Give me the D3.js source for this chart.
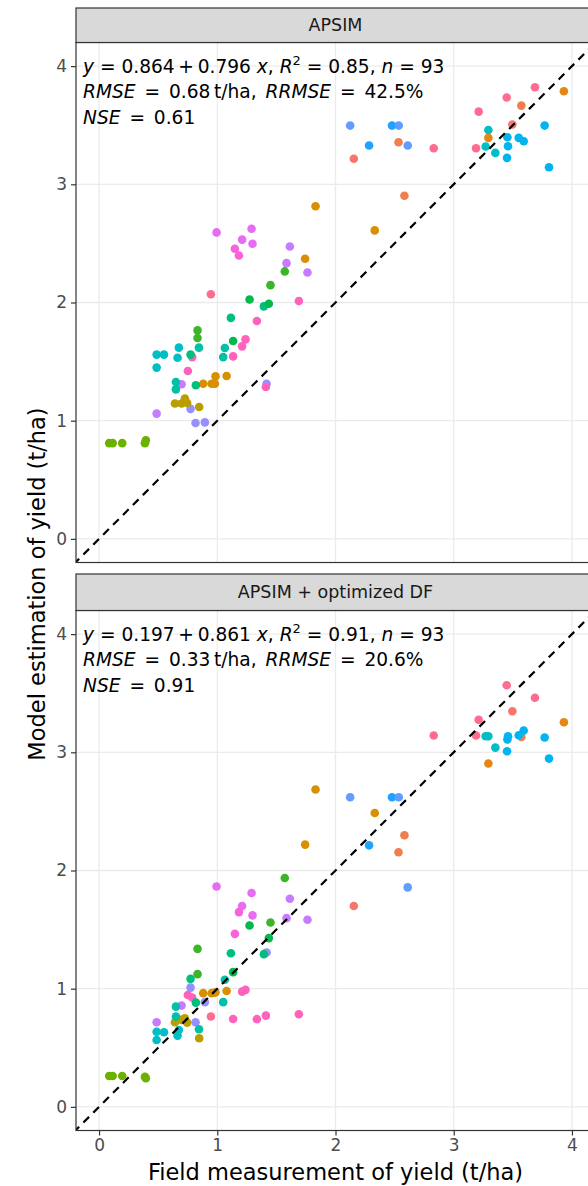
<!DOCTYPE html>
<html><head><meta charset="utf-8">
<script src="https://cdn.jsdelivr.net/npm/d3@7"></script>
<style>body{margin:0;background:#fff;overflow:hidden}svg{display:block;font-family:"DejaVu Sans",sans-serif}</style>
</head><body><svg id="c" width="588" height="1186"></svg>
<script>
// ---- data ----
const panelTitles = ["APSIM", "APSIM + optimized DF"];
const tickValues = [0, 1, 2, 3, 4];
const siteNames = ["S01","S02","S03","S04","S05","S06","S07","S08","S09","S10","S11","S12","S13","S14","S15","S16","S17","S18","S19","S20"];
const siteColors = ["#F8766D","#F07E4E","#E68613","#D89000","#BA9E00","#6BB100","#3DB52A","#00BA4C","#00BF7D","#00C0A6","#00BFC4","#00B4EF","#1FA3FF","#619CFF","#9590FF","#C77CFF","#E76BF3","#FA62DB","#FF62BC","#FF6C91"];
// field measurement (x), APSIM estimate, APSIM + optimized DF estimate, site
const fieldYield = [2.124,2.478,2.535,2.284,2.533,2.611,2.155,2.831,2.583,2.332,3.211,3.189,3.448,3.687,3.572,3.932,3.496,3.293,3.293,3.454,3.55,3.592,3.27,3.352,3.459,3.451,3.769,3.806,1.831,1.743,
 0.086,0.115,0.196,0.388,0.396, 0.994,1.29,1.21,1.298,1.149,1.183, 1.614,1.586,1.763,0.698,0.487, 1.417,0.774,0.816,0.895,
 0.788,0.751,1.134,1.21,1.239,1.335,1.411,1.69,0.946, 0.642,0.698,0.726,0.745,0.847, 0.881,0.952,0.98,0.985,1.079,
 0.487,0.549,0.487,0.675,0.664, 0.65,0.65,0.774,0.819,0.833,0.833,0.845,1.05,1.064,1.115,1.134,1.273,1.394,1.436,1.45,1.571];
const apsimYield = [3.497,3.497,3.497,3.328,3.356,3.328,3.216,3.305,2.903,2.61,3.615,3.305,3.734,3.821,3.666,3.787,3.506,3.46,3.393,3.398,3.393,3.364,3.32,3.266,3.322,3.224,3.497,3.145,2.815,2.37,
 0.81,0.81,0.81,0.81,0.834, 2.593,2.624,2.532,2.497,2.455,2.398, 2.474,2.333,2.254,1.308,1.06, 1.313,1.10,0.98,0.986,
 1.538,1.42,1.544,1.629,1.688,1.843,1.285,2.012,2.07, 1.145,1.145,1.187,1.15,1.116, 1.313,1.313,1.313,1.375,1.378,
 1.559,1.559,1.449,1.618,1.533, 1.327,1.265,1.559,1.30,1.764,1.70,1.618,1.538,1.615,1.87,1.674,2.026,1.967,1.99,2.147,2.263];
const optYield = [2.62,2.62,2.62,2.213,2.154,1.857,1.70,3.142,2.298,2.487,3.275,3.142,3.568,3.462,3.131,3.255,3.348,3.136,2.905,3.108,3.145,3.185,3.136,3.04,3.136,3.009,3.125,2.947,2.685,2.219,
 0.261,0.261,0.261,0.255,0.242, 1.865,1.809,1.70,1.62,1.464,1.648, 1.761,1.597,1.583,0.857,0.716, 1.306,1.009,0.716,0.886,
 0.925,0.947,0.744,0.975,0.99,0.742,0.772,0.784,0.764, 0.716,0.736,0.75,0.713,0.58, 0.962,0.962,0.967,0.97,0.981,
 0.636,0.631,0.566,0.651,0.603, 0.848,0.764,1.083,0.882,1.337,1.123,0.657,0.886,1.075,1.30,1.14,1.535,1.292,1.428,1.56,1.936];
const site = ["S14","S13","S14","S13","S02","S14","S01","S20","S02","S04","S20","S20","S20","S20","S02","S03","S01","S11","S03","S12","S12","S12","S11","S11","S12","S12","S12","S12","S04","S04",
 "S06","S06","S06","S06","S06", "S17","S17","S17","S17","S18","S18", "S16","S16","S16","S16","S16", "S15","S15","S15","S15",
 "S19","S19","S19","S19","S19","S19","S19","S19","S20", "S05","S05","S05","S05","S05", "S04","S04","S04","S04","S04",
 "S11","S11","S11","S11","S11", "S10","S10","S09","S09","S07","S07","S10","S10","S10","S09","S08","S08","S09","S08","S07","S07"];
// regression / error statistics shown in each panel
const eqIntercept = ["0.864", "0.197"];
const eqSlope = ["0.796", "0.861"];
const eqR2 = ["0.85", "0.91"];
const eqN = ["93", "93"];
const rmse = ["0.68", "0.33"];
const rrmse = ["42.5%", "20.6%"];
const nse = ["0.61", "0.91"];
const xTitle = "Field measurement of yield (t/ha)";
const yTitle = "Model estimation of yield (t/ha)";

// ---- layout ----
const svg = d3.select("#c");
const L = 76, R = 595;
const panels = [{top: 42.5, bottom: 562.5, stripTop: 8}, {top: 610.5, bottom: 1130.5, stripTop: 574}];
const x = d3.scaleLinear().domain([-0.195, 4.195]).range([L, R]);
const color = d3.scaleOrdinal().domain(siteNames).range(siteColors);
const data = fieldYield.map((f, i) => ({f, a: apsimYield[i], o: optYield[i], s: site[i]}));
const thin = "\u2009";

panels.forEach((p, pi) => {
  const y = d3.scaleLinear().domain([-0.2, 4.2]).range([p.bottom, p.top]);
  const g = svg.append("g");
  g.append("rect").attr("x", L).attr("y", p.top).attr("width", R - L).attr("height", p.bottom - p.top).attr("fill", "#fff");
  const cid = "clip" + pi;
  svg.append("clipPath").attr("id", cid).append("rect").attr("x", L).attr("y", p.top).attr("width", R - L).attr("height", p.bottom - p.top);
  const inner = g.append("g").attr("clip-path", `url(#${cid})`);
  inner.selectAll(".gx").data(tickValues).join("line").attr("x1", d => x(d)).attr("x2", d => x(d)).attr("y1", p.top).attr("y2", p.bottom).attr("stroke", "#EBEBEB").attr("stroke-width", 1.3);
  inner.selectAll(".gy").data(tickValues).join("line").attr("y1", d => y(d)).attr("y2", d => y(d)).attr("x1", L).attr("x2", R).attr("stroke", "#EBEBEB").attr("stroke-width", 1.3);
  inner.selectAll("circle").data(data).join("circle")
    .attr("cx", d => x(d.f)).attr("cy", d => y(pi === 0 ? d.a : d.o)).attr("r", 4.3).attr("fill", d => color(d.s));
  inner.append("line").attr("x1", x(-0.3)).attr("y1", y(-0.3)).attr("x2", x(4.3)).attr("y2", y(4.3))
    .attr("stroke", "#000").attr("stroke-width", 2.2).attr("stroke-dasharray", "8,6");
  // annotations
  const fs = 18.6, x0 = 83, b0 = p.top + 30;
  const t1 = g.append("text").attr("x", x0).attr("y", b0).attr("font-size", fs).attr("fill", "#000");
  t1.append("tspan").attr("font-style", "italic").text("y");
  t1.append("tspan").text(" = " + eqIntercept[pi] + thin + "+" + thin + eqSlope[pi] + " ");
  t1.append("tspan").attr("font-style", "italic").text("x");
  t1.append("tspan").text(", ");
  t1.append("tspan").attr("font-style", "italic").text("R");
  t1.append("tspan").attr("font-size", 13).attr("dy", -8).text("2");
  t1.append("tspan").attr("dy", 8).text(" = " + eqR2[pi] + ", ");
  t1.append("tspan").attr("font-style", "italic").text("n");
  t1.append("tspan").text(" = " + eqN[pi]);
  const t2 = g.append("text").attr("x", x0).attr("y", b0 + 25.5).attr("font-size", fs).attr("fill", "#000").attr("word-spacing", 3);
  t2.append("tspan").attr("font-style", "italic").text("RMSE");
  t2.append("tspan").text(" = " + rmse[pi] + thin + "t/ha, ");
  t2.append("tspan").attr("font-style", "italic").text("RRMSE");
  t2.append("tspan").text(" = " + rrmse[pi]);
  const t3 = g.append("text").attr("x", x0).attr("y", b0 + 51).attr("font-size", fs).attr("fill", "#000").attr("word-spacing", 3);
  t3.append("tspan").attr("font-style", "italic").text("NSE");
  t3.append("tspan").text(" = " + nse[pi]);

  g.append("rect").attr("x", L).attr("y", p.top).attr("width", R - L).attr("height", p.bottom - p.top).attr("fill", "none").attr("stroke", "#333").attr("stroke-width", 1.2);
  // strip
  g.append("rect").attr("x", L).attr("y", p.stripTop).attr("width", R - L).attr("height", p.top - p.stripTop).attr("fill", "#D9D9D9").attr("stroke", "#333").attr("stroke-width", 1.2);
  g.append("text").attr("x", (L + R) / 2).attr("y", (p.stripTop + p.top) / 2 + 6).attr("text-anchor", "middle").attr("font-size", 17.5).attr("fill", "#1A1A1A").text(panelTitles[pi]);
  // y axis
  const ya = g.append("g").attr("transform", `translate(${L},0)`).call(d3.axisLeft(y).tickValues(tickValues).tickSize(5).tickPadding(4).tickFormat(d3.format("d")));
  ya.select(".domain").remove();
  ya.selectAll("line").attr("stroke", "#333").attr("stroke-width", 1.2);
  ya.selectAll("text").attr("font-size", 17).attr("fill", "#4D4D4D").attr("font-family", "DejaVu Sans");
  if (pi === 1) {
    const xa = g.append("g").attr("transform", `translate(0,${p.bottom})`).call(d3.axisBottom(x).tickValues(tickValues).tickSize(5).tickPadding(3).tickFormat(d3.format("d")));
    xa.select(".domain").remove();
    xa.selectAll("line").attr("stroke", "#333").attr("stroke-width", 1.2);
    xa.selectAll("text").attr("font-size", 17).attr("fill", "#4D4D4D").attr("font-family", "DejaVu Sans");
  }
});
svg.append("text").attr("x", (L + R) / 2).attr("y", 1180).attr("text-anchor", "middle").attr("font-size", 22.5).attr("fill", "#000").text(xTitle);
svg.append("text").attr("transform", "translate(45,584) rotate(-90)").attr("text-anchor", "middle").attr("font-size", 22.5).attr("fill", "#000").text(yTitle);
</script></body></html>
